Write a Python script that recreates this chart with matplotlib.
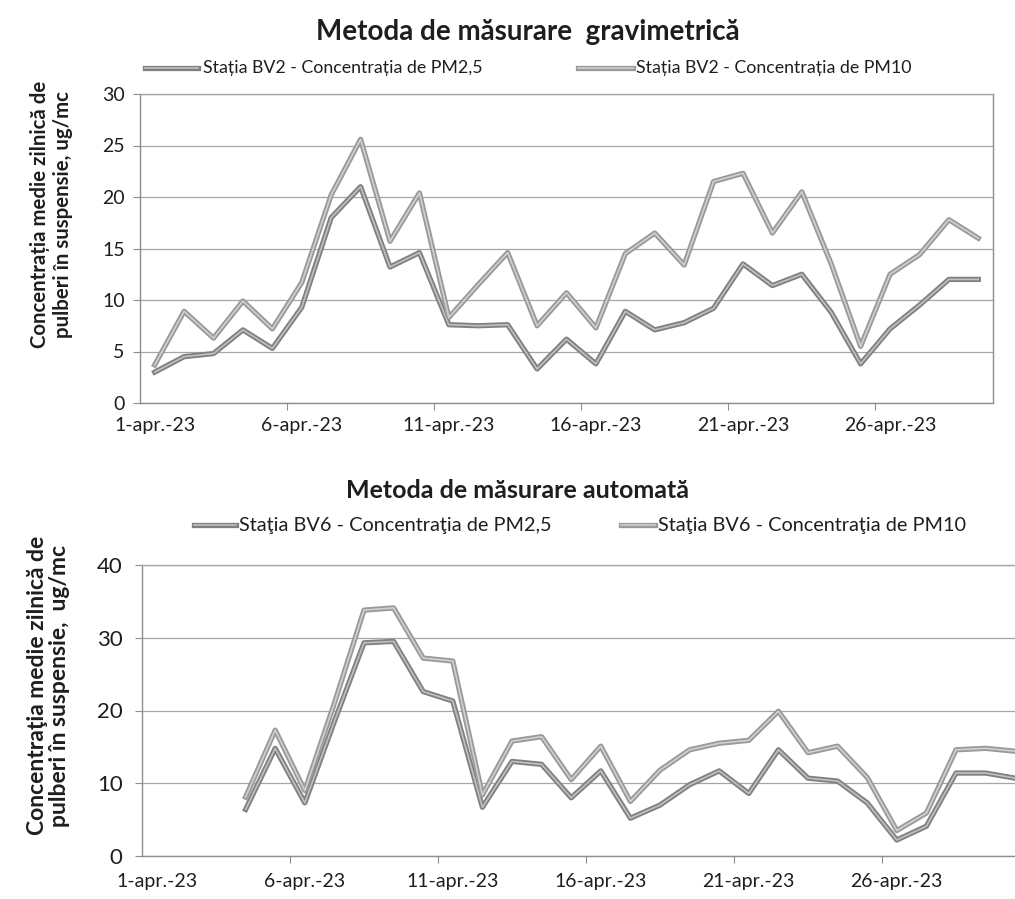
import numpy as np
import matplotlib
matplotlib.use('Agg')
import matplotlib.pyplot as plt
from matplotlib.lines import Line2D
import matplotlib.patheffects as pe

plt.rcParams['font.family'] = ['Lato', 'DejaVu Sans']

# ---------------- data ----------------
days_grav = [f"{d}-apr.-23" for d in range(1, 30)]
pm25_bv2 = [3.0, 4.5, 4.8, 7.1, 5.3, 9.3, 18.0, 21.0, 13.2, 14.6,
            7.6, 7.5, 7.6, 3.3, 6.2, 3.8, 8.9, 7.1, 7.8, 9.2,
            13.5, 11.4, 12.5, 8.8, 3.8, 7.2, 9.5, 12.0, 12.0]
pm10_bv2 = [3.7, 8.9, 6.3, 9.9, 7.2, 11.7, 20.2, 25.6, 15.7, 20.4,
            8.3, 11.5, 14.6, 7.5, 10.7, 7.3, 14.5, 16.5, 13.4, 21.5,
            22.3, 16.5, 20.5, 13.5, 5.5, 12.5, 14.4, 17.8, 16.0]

days_auto = [f"{d}-apr.-23" for d in range(1, 31)]
pm25_bv6 = [np.nan, np.nan, np.nan, 6.4, 14.8, 7.3, 18.5, 29.3, 29.5, 22.6,
            21.3, 6.7, 13.0, 12.6, 8.0, 11.7, 5.2, 7.0, 9.8, 11.7,
            8.6, 14.6, 10.7, 10.3, 7.3, 2.2, 4.1, 11.4, 11.4, 10.7]
pm10_bv6 = [np.nan, np.nan, np.nan, 8.1, 17.3, 9.0, 21.0, 33.8, 34.1, 27.2,
            26.8, 8.4, 15.8, 16.4, 10.5, 15.1, 7.5, 11.8, 14.6, 15.5,
            15.9, 19.9, 14.2, 15.1, 10.8, 3.5, 5.9, 14.6, 14.8, 14.4]

title_grav = "Metoda de măsurare  gravimetrică"
title_auto = "Metoda de măsurare automată"
leg_grav = ["Stația BV2 - Concentrația de PM2,5", "Stația BV2 - Concentrația de PM10"]
leg_auto = ["Staţia BV6 - Concentraţia de PM2,5", "Staţia BV6 - Concentraţia de PM10"]
ylabel_grav = "Concentrația medie zilnică de\npulberi în suspensie, ug/mc"
ylabel_auto = "Concentraţia medie zilnică de\npulberi în suspensie,  ug/mc"

# ---------------- styling ----------------
W, H = 1015, 899
TXT = '#1e1e1e'
AXC = '#8e8e8e'
GRID = '#a6a6a6'
S25 = dict(outer='#808080', inner='#c0c0c0')
S10 = dict(outer='#999999', inner='#d0d0d0')


def peff(st, w=3.8):
    return [pe.Stroke(linewidth=w, foreground=st['outer']), pe.Normal()]


def rect(l, r, t, b):
    return [l / W, 1 - b / H, (r - l) / W, (b - t) / H]


fig = plt.figure(figsize=(W / 100, H / 100), dpi=100)
fig.patch.set_facecolor('white')


def style_axes(ax, n, ymax, ystep, ytick_fs, ypad, show_right=True):
    ax.set_xlim(-0.5, n - 0.5)
    ax.set_ylim(0, ymax)
    ax.set_yticks(np.arange(0, ymax + 0.1, ystep))
    ax.yaxis.grid(True, color=GRID, lw=0.9)
    ax.set_axisbelow(True)
    for s in ['left', 'bottom', 'top', 'right']:
        ax.spines[s].set_color(AXC)
        ax.spines[s].set_linewidth(1.0)
    ax.spines['top'].set_color(GRID)
    ax.spines['right'].set_visible(show_right)
    ax.tick_params(axis='y', direction='out', length=5, color=AXC,
                   labelsize=ytick_fs, labelcolor=TXT, pad=ypad)
    # major ticks at category boundaries, labels on categories (minor)
    ax.set_xticks(np.arange(-0.5, n - 0.5, 5)[1:])
    ax.set_xticklabels([])
    ax.tick_params(axis='x', which='major', direction='out', length=5, color=AXC)
    return ax


# ---------------- chart 1 ----------------
ax1 = fig.add_axes(rect(140, 993, 94, 403))
x1 = np.arange(len(days_grav))
ax1.plot(x1, pm25_bv2, color=S25['inner'], lw=1.2, path_effects=peff(S25), zorder=3)
ax1.plot(x1, pm10_bv2, color=S10['inner'], lw=1.2, path_effects=peff(S10), zorder=3)
style_axes(ax1, len(days_grav), 30, 5, 14, 6)
ax1.set_xticks(x1[::5], minor=True)
ax1.set_xticklabels([days_grav[i] for i in x1[::5]], minor=True)
ax1.tick_params(axis='x', which='minor', length=0, labelsize=14, labelcolor=TXT, pad=10)
ax1.set_ylabel(ylabel_grav, fontsize=14.7, fontweight='bold', color=TXT, linespacing=1.15)
ax1.yaxis.set_label_coords(-0.079, 0.61)

fig.text(528 / W, 1 - 32 / H, title_grav, ha='center', va='center',
         fontsize=20, fontweight='bold', color=TXT)

# legend chart 1 (manual placement)
ly = 1 - 68 / H
for (x0, x1_, tx, label, st) in [(145, 198, 203, leg_grav[0], S25), (578, 633, 636, leg_grav[1], S10)]:
    fig.add_artist(Line2D([x0 / W, x1_ / W], [ly, ly], color=st['inner'], lw=1.2,
                          path_effects=peff(st), transform=fig.transFigure))
    fig.text(tx / W, ly, label, ha='left', va='center', fontsize=12.8, color=TXT)

# ---------------- chart 2 ----------------
ax2 = fig.add_axes(rect(142, 1030, 565, 856))
x2 = np.arange(len(days_auto))
ax2.plot(x2, pm25_bv6, color=S25['inner'], lw=1.2, path_effects=peff(S25), zorder=3)
ax2.plot(x2, pm10_bv6, color=S10['inner'], lw=1.2, path_effects=peff(S10), zorder=3)
style_axes(ax2, len(days_auto), 40, 10, 16, 9, show_right=False)
ax2.set_xticks(x2[::5], minor=True)
ax2.set_xticklabels([days_auto[i] for i in x2[::5]], minor=True)
ax2.tick_params(axis='x', which='minor', length=0, labelsize=14, labelcolor=TXT, pad=12)
ax2.set_ylabel(ylabel_auto, fontsize=16.5, fontweight='bold', color=TXT, linespacing=1.05)
ax2.yaxis.set_label_coords(-0.081, 0.585)

fig.text(518 / W, 1 - 490 / H, title_auto, ha='center', va='center',
         fontsize=18, fontweight='bold', color=TXT)

ly2 = 1 - 525 / H
for (x0, x1_, tx, label, st) in [(194, 236, 239, leg_auto[0], S25), (621, 655, 658, leg_auto[1], S10)]:
    fig.add_artist(Line2D([x0 / W, x1_ / W], [ly2, ly2], color=st['inner'], lw=1.2,
                          path_effects=peff(st), transform=fig.transFigure))
    fig.text(tx / W, ly2, label, ha='left', va='center', fontsize=14.3, color=TXT)

fig.savefig('out.png', dpi=100, facecolor='white')
